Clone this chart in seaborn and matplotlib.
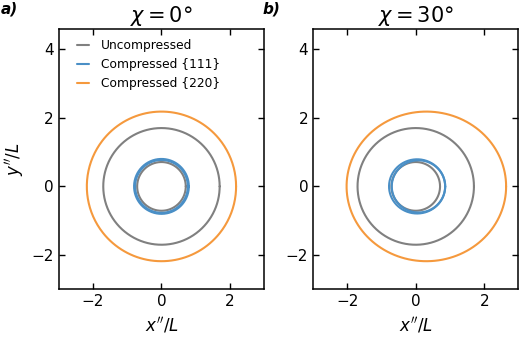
import numpy as np
import pandas as pd
import seaborn as sns
import matplotlib.pyplot as plt

# Ring definitions (centre x, semi-axes in units of L)
ring_labels = ["Uncompressed", "Uncompressed", "Compressed {111}", "Compressed {111}", "Compressed {220}"]
legend_order = ["Uncompressed", "Compressed {111}", "Compressed {220}"]

# chi = 0 deg
a_cx = [0.0, 0.0, 0.0, 0.0, 0.0]
a_rx = [1.70, 0.71, 0.80, 0.77, 2.18]
a_ry = [1.70, 0.71, 0.80, 0.77, 2.18]

# chi = 30 deg
b_cx = [0.0, 0.0, 0.04, 0.08, 0.31]
b_rx = [1.70, 0.71, 0.82, 0.78, 2.33]
b_ry = [1.70, 0.71, 0.79, 0.76, 2.18]

titles = [r"$\chi = 0°$", r"$\chi = 30°$"]
panel_tags = ["a)", "b)"]
xticks = [-2, 0, 2]
yticks = [-2, 0, 2, 4]

colors = {"Uncompressed": "#808080", "Compressed {111}": "#4a8fc6", "Compressed {220}": "#f5993d"}


def ring_frame(cx, rx, ry):
    t = np.linspace(0, 2 * np.pi, 400)
    rows = []
    for i, (lab, c, a, b) in enumerate(zip(ring_labels, cx, rx, ry)):
        rows.append(pd.DataFrame({"x": c + a * np.cos(t), "y": b * np.sin(t),
                                  "ring": lab, "curve": i}))
    return pd.concat(rows, ignore_index=True)


sns.set_style("ticks")
plt.rcParams["font.family"] = ["DejaVu Sans"]
plt.rcParams["mathtext.fontset"] = "dejavusans"
plt.rcParams["text.color"] = "black"
plt.rcParams["axes.labelcolor"] = "black"

fig = plt.figure(figsize=(5.2, 3.4), dpi=100)
positions = [[0.113, 0.149, 0.395, 0.765], [0.602, 0.149, 0.395, 0.765]]
frames = [ring_frame(a_cx, a_rx, a_ry), ring_frame(b_cx, b_rx, b_ry)]

for k in range(2):
    ax = fig.add_axes(positions[k])
    sns.lineplot(data=frames[k], x="x", y="y", hue="ring", hue_order=legend_order,
                 units="curve", estimator=None, sort=False, palette=colors,
                 linewidth=1.5, legend=(k == 0), ax=ax)
    ax.set_xlim(-3, 3)
    ax.set_ylim(-3, 4.58)
    ax.set_xticks(xticks)
    ax.set_yticks(yticks)
    ax.set_xticklabels([str(v).replace("-", "\u2212") for v in xticks])
    ax.set_yticklabels([str(v).replace("-", "\u2212") for v in yticks])
    ax.tick_params(direction="in", top=True, right=True, length=4, width=1,
                   labelsize=11, colors="black")
    for s in ax.spines.values():
        s.set_linewidth(1.1)
        s.set_color("black")
    ax.set_xlabel(r"$x''/L$", fontsize=12)
    ax.set_ylabel(r"$y''/L$" if k == 0 else "", fontsize=12)
    ax.set_title(titles[k], fontsize=15, pad=5, color="black")
    if k == 0:
        leg = ax.legend(loc="upper left", bbox_to_anchor=(0.04, 1.0), frameon=False,
                        fontsize=8.8, handlelength=1.0, borderaxespad=0.5, borderpad=0.3,
                        labelspacing=0.5, handletextpad=1.0)
        for t in leg.get_texts():
            t.set_color("black")

fig.text(0.002, 0.995, panel_tags[0], fontsize=11, fontweight="bold", fontstyle="italic", va="top")
fig.text(0.505, 0.995, panel_tags[1], fontsize=11, fontweight="bold", fontstyle="italic", va="top")

fig.savefig("out.png", dpi=100)
